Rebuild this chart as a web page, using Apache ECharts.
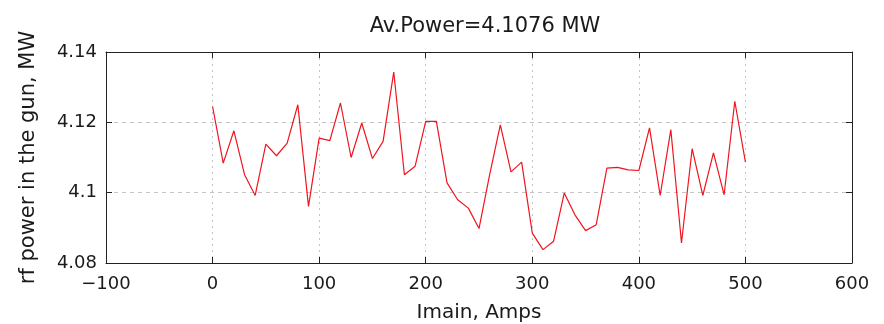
<!DOCTYPE html>
<html><head><meta charset="utf-8">
<script src="https://cdn.jsdelivr.net/npm/echarts@6/dist/echarts.min.js"></script>
<style>html,body{margin:0;padding:0;background:#fff}#c{width:884px;height:324px}</style>
</head><body><div id="c"></div>
<script>
const currents = [0,10,20,30,40,50,60,70,80,90,100,110,120,130,140,150,160,170,180,190,200,210,220,230,240,250,260,270,280,290,300,310,320,330,340,350,360,370,380,390,400,410,420,430,440,450,460,470,480,490,500];
const power = [4.1245,4.1084,4.1176,4.1051,4.0992,4.1138,4.1105,4.1141,4.1250,4.0961,4.1155,4.1148,4.1255,4.1100,4.1198,4.1097,4.1146,4.1343,4.1051,4.1075,4.1203,4.1203,4.1028,4.0980,4.0956,4.0898,4.1051,4.1193,4.1059,4.1087,4.0885,4.0838,4.0862,4.0999,4.0937,4.0892,4.0909,4.1070,4.1072,4.1065,4.1063,4.1184,4.0992,4.1179,4.0857,4.1125,4.0992,4.1113,4.0994,4.1260,4.1087];
const titleText = 'Av.Power=4.1076 MW';
const xName = 'Imain, Amps';
const yName = 'rf power in the gun, MW';

const font = 'DejaVu Sans, sans-serif';
const chart = echarts.init(document.getElementById('c'), null, {renderer:'canvas'});
const axisLine = {show:true, onZero:false, lineStyle:{color:'#222', width:1}};
const tick = {show:true, inside:true, length:6, lineStyle:{color:'#222'}};
const tickTxt = {fontFamily:font, fontSize:18, color:'#1a1a1a'};
const nameTxt = {fontFamily:font, fontSize:20, color:'#1a1a1a'};
chart.setOption({
  animation:false,
  title:{text:titleText, left:480, top:11, textAlign:'center',
    textStyle:{fontFamily:font, fontSize:21, fontWeight:'normal', color:'#1a1a1a'}},
  grid:{left:106, right:32, top:52, bottom:61, containLabel:false, outerBoundsMode:'none'},
  xAxis:[{type:'value', min:-100, max:600, interval:100, position:'bottom',
    name:xName, nameLocation:'middle', nameGap:40,
    nameTextStyle:nameTxt,
    axisLine:axisLine, axisTick:tick,
    axisLabel:Object.assign({margin:12, formatter:v=>String(v).replace('-','\u2212')}, tickTxt),
    splitLine:{show:true, lineStyle:{color:'#c4c4c4', type:[2,4], width:1}}},
   {type:'value', min:-100, max:600, interval:100, position:'top',
    axisLine:axisLine, axisTick:tick, axisLabel:{show:false}, splitLine:{show:false}}],
  yAxis:[{type:'value', min:4.08, max:4.14, interval:0.02, position:'left',
    name:yName, nameLocation:'middle', nameGap:67, nameRotate:90,
    nameTextStyle:{fontFamily:font, fontSize:21, color:'#1a1a1a'},
    axisLine:axisLine, axisTick:tick,
    axisLabel:Object.assign({margin:9}, tickTxt),
    splitLine:{show:true, lineStyle:{color:'#c4c4c4', type:[4,4], width:1}}},
   {type:'value', min:4.08, max:4.14, interval:0.02, position:'right',
    axisLine:axisLine, axisTick:tick, axisLabel:{show:false}, splitLine:{show:false}}],
  series:[{type:'line', data:currents.map((c,i)=>[c,power[i]]), showSymbol:false,
    lineStyle:{color:'#f0141e', width:1.2}, itemStyle:{color:'#f0141e'}}]
});
</script></body></html>
